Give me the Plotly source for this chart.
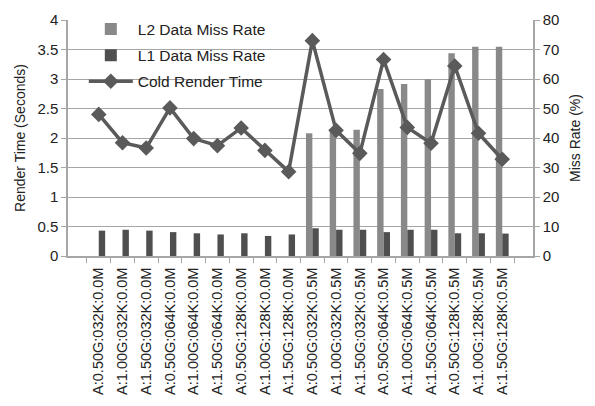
import plotly.graph_objects as go

# Configurations: associativity / cache size / prefetch size
configs = [
    "A:0.50G:032K:0.0M", "A:1.00G:032K:0.0M", "A:1.50G:032K:0.0M",
    "A:0.50G:064K:0.0M", "A:1.00G:064K:0.0M", "A:1.50G:064K:0.0M",
    "A:0.50G:128K:0.0M", "A:1.00G:128K:0.0M", "A:1.50G:128K:0.0M",
    "A:0.50G:032K:0.5M", "A:1.00G:032K:0.5M", "A:1.50G:032K:0.5M",
    "A:0.50G:064K:0.5M", "A:1.00G:064K:0.5M", "A:1.50G:064K:0.5M",
    "A:0.50G:128K:0.5M", "A:1.00G:128K:0.5M", "A:1.50G:128K:0.5M",
]

# Miss rates in percent
l2_miss = [0, 0, 0, 0, 0, 0, 0, 0, 0,
           41.6, 42.4, 42.8, 56.6, 58.3, 59.9, 68.7, 70.9, 70.9]
l1_miss = [8.6, 8.9, 8.6, 8.1, 7.7, 7.3, 7.7, 6.8, 7.3,
           9.4, 8.9, 8.9, 8.1, 8.9, 8.9, 7.7, 7.7, 7.6]

# Cold render time in seconds
render_time = [2.40, 1.92, 1.83, 2.51, 1.99, 1.87, 2.17, 1.79, 1.43,
               3.65, 2.13, 1.74, 3.33, 2.18, 1.91, 3.22, 2.08, 1.64]

FONT = "Liberation Sans"
GRID = "#a6a6a6"

fig = go.Figure()
fig.add_trace(go.Bar(
    x=configs, y=l2_miss, name="L2 Data Miss Rate", legendgroup="l2",
    marker=dict(color="#898989", line=dict(width=0)), yaxis="y",
))
fig.add_trace(go.Bar(
    x=configs, y=l1_miss, name="L1 Data Miss Rate", legendgroup="l1",
    marker=dict(color="#4f4f4f", line=dict(width=0)), yaxis="y",
))
fig.add_trace(go.Scatter(
    x=configs, y=render_time, name="Cold Render Time", legendgroup="rt",
    mode="lines+markers",
    line=dict(color="#5a5a5a", width=3.5),
    marker=dict(symbol="diamond", size=12, color="#5a5a5a"),
    yaxis="y2",
))

fig.update_layout(
    width=595, height=406,
    margin=dict(l=68, r=62, t=12, b=150),
    paper_bgcolor="white", plot_bgcolor="white",
    font=dict(family=FONT, size=14, color="#222222"),
    barmode="group", bargap=0.46, bargroupgap=0,
    showlegend=True,
    legend=dict(
        x=0.034, y=1.032, xanchor="left", yanchor="top",
        bgcolor="rgba(255,255,255,0)", font=dict(size=15.5, color="#222222"),
        itemwidth=44, tracegroupgap=3,
    ),
    xaxis=dict(
        type="category", tickangle=-90, tickfont=dict(size=14.5),
        ticks="outside", tickson="boundaries", ticklen=5, tickcolor=GRID,
        showline=True, linecolor=GRID, linewidth=1.5, showgrid=False,
        ticklabelstandoff=4, automargin=False,
    ),
    # Miss rate axis (bars) on the right
    yaxis=dict(
        side="right", range=[0, 80], dtick=10,
        title=dict(text="Miss Rate (%)", font=dict(size=14), standoff=12),
        tickfont=dict(size=15),
        showgrid=True, gridcolor=GRID, gridwidth=1.3,
        showline=True, linecolor=GRID, linewidth=1.5,
        ticks="outside", ticklen=5, tickcolor=GRID, zeroline=False,
    ),
    # Render time axis (line) on the left, drawn above the bars
    yaxis2=dict(
        side="left", overlaying="y", range=[0, 4], dtick=0.5,
        title=dict(text="Render Time (Seconds)", font=dict(size=14), standoff=8),
        tickfont=dict(size=15),
        showgrid=False, showline=True, linecolor=GRID, linewidth=1.5,
        ticks="outside", ticklen=5, tickcolor=GRID, zeroline=False,
    ),
)

fig.write_html("out.html")
